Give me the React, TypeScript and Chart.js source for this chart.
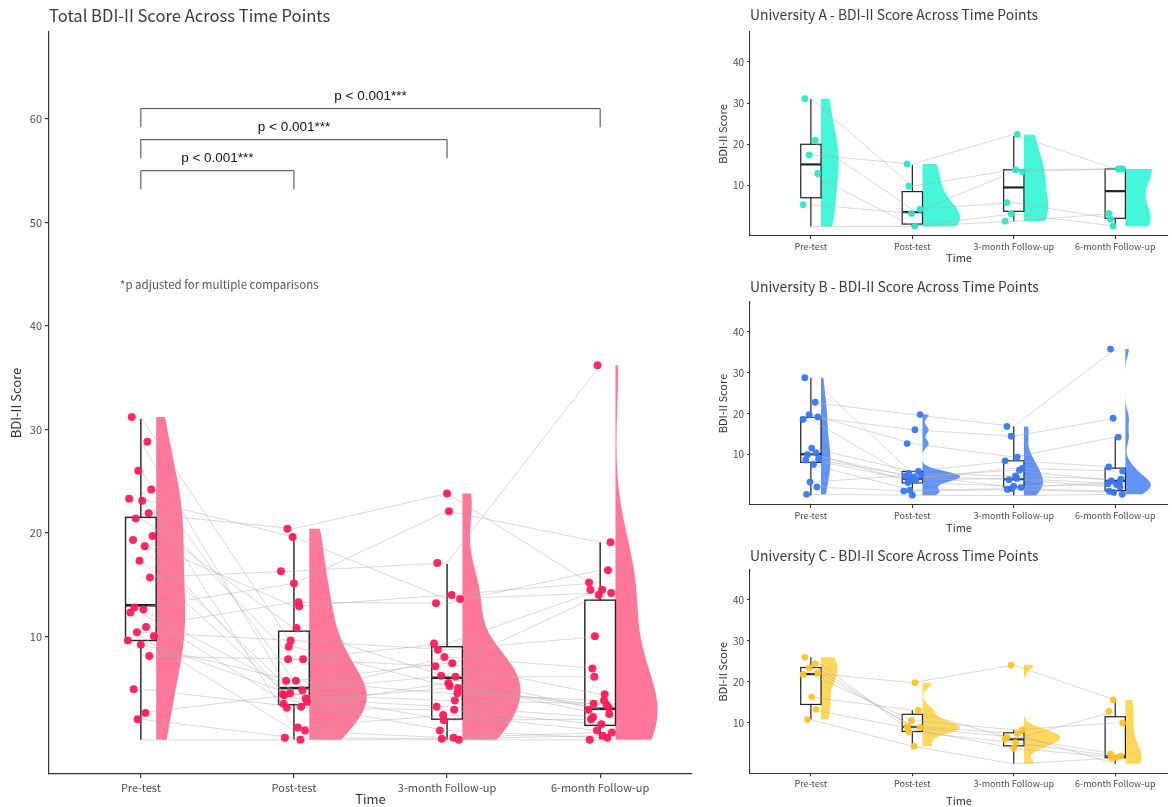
import React, { useEffect, useRef } from 'react';
import { Chart, registerables } from 'chart.js';

Chart.register(...registerables);

const FONT = "'Noto Sans CJK KR', 'Noto Sans', sans-serif";
const PFONT = "'Liberation Sans', Arial, sans-serif";

const TIME_LABELS = ['Pre-test', 'Post-test', '3-month Follow-up', '6-month Follow-up'];
const TIME_POSITIONS = [1, 2, 3, 4];

// ---------- Total sample (index-aligned by participant) ----------
const totalPre = [31.2, 28.8, 26.0, 24.2, 23.3, 23.1, 21.9, 21.4, 19.7, 19.3, 18.7, 17.3, 15.7, 12.8, 12.6, 12.3, 10.9, 10.4, 10.0, 9.6, 9.2, 8.1, 4.9, 2.6, 2.0, 0.0];
const totalPost = [9.0, 4.0, 5.7, 1.2, 19.6, 7.8, 20.4, 10.8, 3.5, 12.9, 4.5, 3.7, 16.3, 15.1, 4.8, 3.1, 13.3, 9.6, 0.9, 4.3, 5.7, 7.8, 3.2, 4.4, 0.2, 0.0];
const total3m = [5.2, 3.2, 7.4, 2.4, 13.6, 9.3, 23.8, 6.1, 0.9, 14.0, 1.9, 5.0, 17.1, 22.1, 6.2, 2.9, 13.2, 8.7, 0.2, 8.0, 4.5, 7.1, 5.5, 3.8, 0.1, 0.0];
const total6m = [3.1, 2.2, 4.4, 0.9, 14.2, 14.5, 14.5, 6.1, 0.2, 15.2, 2.0, 3.4, 36.2, 19.1, 2.9, 1.5, 16.4, 10.0, 0.7, 6.9, 3.8, 14.0, 2.5, 3.5, 0.4, 0.0];
const totalWhiskerLow = [0, 0, 0, 0];
const totalQ1 = [9.6, 3.4, 2.0, 1.4];
const totalMedian = [13.0, 5.0, 6.0, 3.0];
const totalQ3 = [21.5, 10.5, 9.0, 13.5];
const totalWhiskerHigh = [31.0, 19.9, 17.0, 19.1];
const totalHidden = [[25, 0]]; // [participant, time] points removed below the axis floor

// p-value brackets
const bracketFrom = [1, 1, 1];
const bracketTo = [2, 3, 4];
const bracketTop = [55.0, 58.0, 61.0];
const bracketBottom = [53.2, 56.2, 59.2];
const bracketLabelY = [56.2, 59.2, 62.2];
const bracketLabels = ['p < 0.001***', 'p < 0.001***', 'p < 0.001***'];

// ---------- University A ----------
const uniAPre = [31.1, 21.0, 17.4, 12.9, 5.3, 0.0];
const uniAPost = [9.8, 4.2, 15.2, 0.1, 3.2, 0.0];
const uniA3m = [13.8, 5.8, 22.4, 3.1, 13.3, 1.3];
const uniA6m = [14.0, 1.8, 14.0, 0.1, 14.0, 3.2];
const uniAWhiskerLow = [0, 0, 1.3, 0];
const uniAQ1 = [7.0, 0.6, 3.7, 2.0];
const uniAMedian = [15.1, 3.5, 9.5, 8.6];
const uniAQ3 = [20.0, 8.5, 13.8, 14.0];
const uniAWhiskerHigh = [31.0, 15.0, 22.0, 14.0];
const uniAHidden = [[5, 0], [5, 1]];

// ---------- University B ----------
const uniBPre = [28.8, 22.8, 19.8, 19.2, 18.6, 11.6, 10.4, 10.0, 9.0, 8.7, 7.6, 3.3, 2.1, 0.3];
const uniBPost = [5.4, 19.8, 12.7, 16.1, 4.1, 5.9, 3.2, 4.5, 4.8, 3.8, 1.3, 5.0, 1.1, 0.1];
const uniB3m = [4.8, 16.9, 9.4, 14.5, 6.7, 8.5, 2.3, 6.2, 3.9, 4.2, 1.7, 2.0, 1.5, 0.0];
const uniB6m = [4.0, 35.8, 14.3, 18.9, 6.0, 7.0, 2.7, 3.6, 2.1, 2.9, 1.1, 3.2, 0.8, 0.3];
const uniBWhiskerLow = [0, 0, 0, 0];
const uniBQ1 = [8.1, 3.1, 2.1, 1.2];
const uniBMedian = [10.1, 4.1, 4.0, 3.6];
const uniBQ3 = [19.1, 5.9, 8.5, 6.7];
const uniBWhiskerHigh = [28.8, 6.0, 16.9, 14.3];
const uniBHidden = [[13, 2]];

// ---------- University C ----------
const uniCPre = [26.0, 24.4, 23.4, 22.2, 21.8, 16.3, 13.3, 10.8];
const uniCPost = [7.8, 8.9, 9.2, 19.8, 10.6, 13.1, 8.5, 4.3];
const uniC3m = [5.2, 6.5, 7.4, 24.1, 8.3, 6.0, 3.8, 0.0];
const uniC6m = [1.9, 2.4, 0.0, 15.6, 10.0, 12.8, 1.6, 1.4];
const uniCWhiskerLow = [10.8, 4.3, 0, 0];
const uniCQ1 = [14.5, 7.9, 4.4, 1.5];
const uniCMedian = [21.9, 9.0, 6.0, 1.9];
const uniCQ3 = [23.5, 12.1, 7.6, 11.5];
const uniCWhiskerHigh = [26.0, 13.1, 8.3, 15.6];
const uniCHidden = [[7, 2], [2, 3]];

const TOTAL_TICKS = [10, 20, 30, 40, 50, 60];
const UNI_TICKS = [10, 20, 30, 40];

// fixed horizontal jitter pattern (fractions of jitter width)
const JITTER = [-0.7, 0.5, -0.2, 0.8, -0.9, 0.1, 0.6, -0.4, 0.9, -0.6, 0.3, -0.1, 0.7, -0.5, 0.2, -0.8, 0.4, -0.3, 1.0, -1.0, 0.0, 0.65, -0.55, 0.35, -0.25, 0.85, -0.75, 0.15, -0.45, 0.55, -0.85];

function bandwidth(v: number[]) {
  const n = v.length;
  const mean = v.reduce((a, b) => a + b, 0) / n;
  const sd = Math.sqrt(v.reduce((a, b) => a + (b - mean) ** 2, 0) / (n - 1));
  const s = [...v].sort((a, b) => a - b);
  const q = (p: number) => {
    const h = (n - 1) * p;
    const lo = Math.floor(h);
    return s[lo] + (h - lo) * ((s[Math.min(lo + 1, n - 1)]) - s[lo]);
  };
  const iqr = (q(0.75) - q(0.25)) / 1.34;
  let lo = Math.min(sd, iqr);
  if (!(lo > 0)) lo = sd || 1;
  return 0.9 * lo * Math.pow(n, -0.2);
}

function kdeCurve(v: number[], adjust: number) {
  const bw = bandwidth(v) * adjust;
  const min = Math.min(...v);
  const max = Math.max(...v);
  const steps = 160;
  const ys: number[] = [];
  const ds: number[] = [];
  const n = v.length;
  for (let k = 0; k <= steps; k++) {
    const y = min + ((max - min) * k) / steps;
    let d = 0;
    for (const xi of v) {
      const u = (y - xi) / bw;
      d += Math.exp(-0.5 * u * u);
    }
    ys.push(y);
    ds.push(d / (n * bw * Math.sqrt(2 * Math.PI)));
  }
  return { ys, ds };
}

type Cfg = {
  key: string;
  title: string;
  titleSize: number;
  titleY: number;
  series: number[][];
  wlo: number[];
  q1: number[];
  med: number[];
  q3: number[];
  whi: number[];
  hidden: number[][];
  pointColor: string;
  violinColor: string;
  yMin: number;
  yMax: number;
  yTicks: number[];
  xMax: number;
  left: number;
  top: number;
  width: number;
  height: number;
  areaLeft: number;
  areaTop: number;
  areaBottom: number;
  padRight: number;
  violinWidth: number;
  bwAdjust: number;
  jitterWidth: number;
  pointR: number;
  boxLW: number;
  medLW: number;
  axisLW: number;
  tickSize: number;
  yTickSize: number;
  axisTitleSize: number;
  xTickPad: number;
  yTitlePad: number;
  xTitlePad: number;
  tickLen: number;
  extra?: (chart: any) => void;
};

function buildChart(canvas: HTMLCanvasElement, cfg: Cfg) {
  const { series } = cfg;
  const n = series[0].length;
  const hidden = new Set(cfg.hidden.map(([i, t]) => i + '-' + t));

  const points: { x: number; y: number }[] = [];
  series.forEach((s, t) => {
    s.forEach((v, i) => {
      if (v == null || hidden.has(i + '-' + t)) return;
      points.push({ x: TIME_POSITIONS[t] + JITTER[(i + 7 * t) % JITTER.length] * cfg.jitterWidth, y: v });
    });
  });

  const lineSets: any[] = [];
  for (let i = 0; i < n; i++) {
    lineSets.push({
      data: series.map((s, t) => ({ x: TIME_POSITIONS[t], y: s[i] })),
      showLine: true,
      borderColor: 'rgba(170,170,170,0.45)',
      borderWidth: 1,
      pointRadius: 0,
      fill: false,
      tension: 0,
      order: 2,
    });
  }

  const curves = series.map((s) => kdeCurve(s, cfg.bwAdjust));
  const globalMax = Math.max(...curves.map((c) => Math.max(...c.ds)));

  const rainPlugin = {
    id: 'rain-' + cfg.key,
    beforeDatasetsDraw(chart: any) {
      const { ctx, scales } = chart;
      const xs = scales.x;
      const ysc = scales.y;
      ctx.save();
      // half violins
      curves.forEach((c, t) => {
        const pos = TIME_POSITIONS[t];
        ctx.beginPath();
        ctx.moveTo(xs.getPixelForValue(pos + 0.1), ysc.getPixelForValue(c.ys[0]));
        c.ys.forEach((yv, k) => {
          ctx.lineTo(xs.getPixelForValue(pos + 0.1 + (c.ds[k] / globalMax) * cfg.violinWidth), ysc.getPixelForValue(yv));
        });
        ctx.lineTo(xs.getPixelForValue(pos + 0.1), ysc.getPixelForValue(c.ys[c.ys.length - 1]));
        ctx.closePath();
        ctx.fillStyle = cfg.violinColor;
        ctx.fill();
      });
      // boxes
      ctx.strokeStyle = '#222';
      TIME_POSITIONS.forEach((pos, t) => {
        const xl = xs.getPixelForValue(pos - 0.1);
        const xr = xs.getPixelForValue(pos + 0.1);
        const xc = xs.getPixelForValue(pos);
        const yq1 = ysc.getPixelForValue(cfg.q1[t]);
        const yq3 = ysc.getPixelForValue(cfg.q3[t]);
        ctx.lineWidth = cfg.boxLW;
        ctx.beginPath();
        ctx.moveTo(xc, ysc.getPixelForValue(cfg.whi[t]));
        ctx.lineTo(xc, yq3);
        ctx.moveTo(xc, yq1);
        ctx.lineTo(xc, ysc.getPixelForValue(cfg.wlo[t]));
        ctx.stroke();
        ctx.strokeRect(xl, yq3, xr - xl, yq1 - yq3);
        ctx.lineWidth = cfg.medLW;
        ctx.beginPath();
        const ym = ysc.getPixelForValue(cfg.med[t]);
        ctx.moveTo(xl, ym);
        ctx.lineTo(xr, ym);
        ctx.stroke();
      });
      ctx.restore();
    },
    afterDraw(chart: any) {
      const { ctx, chartArea } = chart;
      ctx.save();
      ctx.fillStyle = '#3a3a3a';
      ctx.font = `${cfg.titleSize}px ${FONT}`;
      ctx.textBaseline = 'middle';
      ctx.textAlign = 'left';
      ctx.fillText(cfg.title, chartArea.left, cfg.titleY);
      ctx.restore();
      if (cfg.extra) cfg.extra(chart);
    },
  };

  return new Chart(canvas, {
    type: 'scatter',
    data: {
      datasets: [
        {
          data: points,
          pointRadius: cfg.pointR,
          pointBackgroundColor: cfg.pointColor,
          pointBorderWidth: 0,
          order: 0,
        } as any,
        ...lineSets,
      ],
    },
    options: {
      animation: false,
      responsive: false,
      events: [],
      layout: { padding: { top: cfg.areaTop, right: cfg.padRight, left: 0, bottom: 0 } },
      plugins: { legend: { display: false }, tooltip: { enabled: false }, title: { display: false } },
      scales: {
        x: {
          type: 'linear',
          min: 0.4,
          max: cfg.xMax,
          afterBuildTicks: (s: any) => {
            s.ticks = TIME_POSITIONS.map((v) => ({ value: v }));
          },
          afterFit: (s: any) => {
            s.height = cfg.height - cfg.areaBottom;
          },
          ticks: {
            autoSkip: false,
            maxRotation: 0,
            padding: cfg.xTickPad,
            color: '#4d4d4d',
            font: { family: FONT, size: cfg.tickSize },
            callback: (v: any) => TIME_LABELS[Number(v) - 1] ?? '',
          },
          grid: { display: true, drawOnChartArea: false, drawTicks: true, tickLength: cfg.tickLen, color: '#333', lineWidth: cfg.axisLW },
          border: { display: true, color: '#333', width: cfg.axisLW },
          title: {
            display: true,
            text: 'Time',
            color: '#333',
            font: { family: FONT, size: cfg.axisTitleSize, lineHeight: 1.2 },
            padding: { top: 0, bottom: cfg.xTitlePad },
          },
        },
        y: {
          type: 'linear',
          min: cfg.yMin,
          max: cfg.yMax,
          afterBuildTicks: (s: any) => {
            s.ticks = cfg.yTicks.map((v) => ({ value: v }));
          },
          afterFit: (s: any) => {
            s.width = cfg.areaLeft;
          },
          ticks: {
            padding: 3,
            color: '#4d4d4d',
            font: { family: FONT, size: cfg.yTickSize },
          },
          grid: { display: true, drawOnChartArea: false, drawTicks: true, tickLength: cfg.tickLen, color: '#333', lineWidth: cfg.axisLW },
          border: { display: true, color: '#333', width: cfg.axisLW },
          title: {
            display: true,
            text: 'BDI-II Score',
            color: '#333',
            font: { family: FONT, size: cfg.axisTitleSize, lineHeight: 1.2 },
            padding: { top: cfg.yTitlePad, bottom: 0 },
          },
        },
      },
    } as any,
    plugins: [rainPlugin],
  });
}

function drawBrackets(chart: any) {
  const { ctx, scales } = chart;
  const xs = scales.x;
  const ys = scales.y;
  ctx.save();
  ctx.strokeStyle = '#444';
  ctx.lineWidth = 1;
  bracketFrom.forEach((from, k) => {
    const x1 = xs.getPixelForValue(from);
    const x2 = xs.getPixelForValue(bracketTo[k]);
    const yt = ys.getPixelForValue(bracketTop[k]);
    const yb = ys.getPixelForValue(bracketBottom[k]);
    ctx.beginPath();
    ctx.moveTo(x1, yb);
    ctx.lineTo(x1, yt);
    ctx.lineTo(x2, yt);
    ctx.lineTo(x2, yb);
    ctx.stroke();
    ctx.fillStyle = '#111';
    ctx.font = `13.5px ${PFONT}`;
    ctx.textAlign = 'center';
    ctx.textBaseline = 'middle';
    ctx.fillText(bracketLabels[k], (x1 + x2) / 2, ys.getPixelForValue(bracketLabelY[k]));
  });
  ctx.fillStyle = '#555';
  ctx.font = `11.5px ${FONT}`;
  ctx.textAlign = 'left';
  ctx.textBaseline = 'middle';
  ctx.fillText('*p adjusted for multiple comparisons', xs.getPixelForValue(0.864), ys.getPixelForValue(44.0));
  ctx.restore();
}

const MAIN: Cfg = {
  key: 'total',
  title: 'Total BDI-II Score Across Time Points',
  titleSize: 16.6,
  titleY: 16,
  series: [totalPre, totalPost, total3m, total6m],
  wlo: totalWhiskerLow,
  q1: totalQ1,
  med: totalMedian,
  q3: totalQ3,
  whi: totalWhiskerHigh,
  hidden: totalHidden,
  pointColor: 'rgba(255,28,88,0.95)',
  violinColor: 'rgba(255,112,148,0.95)',
  yMin: -3.3,
  yMax: 68.4,
  yTicks: TOTAL_TICKS,
  xMax: 4.6,
  left: 0,
  top: 0,
  width: 700,
  height: 807,
  areaLeft: 49,
  areaTop: 32,
  areaBottom: 774,
  padRight: 8,
  violinWidth: 0.38,
  bwAdjust: 1.15,
  jitterWidth: 0.085,
  pointR: 4,
  boxLW: 1.4,
  medLW: 2.6,
  axisLW: 1.2,
  tickSize: 11,
  yTickSize: 11,
  axisTitleSize: 13,
  xTickPad: 3,
  yTitlePad: 8,
  xTitlePad: 0,
  tickLen: 4,
  extra: drawBrackets,
};

const subBase = {
  yMin: -2.3,
  yMax: 47.3,
  yTicks: UNI_TICKS,
  xMax: 4.52,
  left: 700,
  width: 472,
  areaLeft: 50,
  areaTop: 32,
  padRight: 3,
  violinWidth: 0.37,
  bwAdjust: 1.05,
  jitterWidth: 0.085,
  pointR: 3.4,
  boxLW: 1.2,
  medLW: 2.2,
  axisLW: 1.1,
  tickSize: 9,
  yTickSize: 10,
  axisTitleSize: 11,
  xTickPad: 2,
  yTitlePad: 16,
  tickLen: 3,
  titleSize: 13.9,
};

const UNI_A: Cfg = {
  ...subBase,
  key: 'a',
  title: 'University A - BDI-II Score Across Time Points',
  titleY: 15,
  series: [uniAPre, uniAPost, uniA3m, uniA6m],
  wlo: uniAWhiskerLow,
  q1: uniAQ1,
  med: uniAMedian,
  q3: uniAQ3,
  whi: uniAWhiskerHigh,
  hidden: uniAHidden,
  pointColor: 'rgba(40,232,200,0.95)',
  violinColor: 'rgba(60,245,215,0.95)',
  top: 0,
  height: 270,
  areaBottom: 236,
  xTitlePad: 5.5,
};

const UNI_B: Cfg = {
  ...subBase,
  key: 'b',
  title: 'University B - BDI-II Score Across Time Points',
  titleY: 16.7,
  series: [uniBPre, uniBPost, uniB3m, uniB6m],
  wlo: uniBWhiskerLow,
  q1: uniBQ1,
  med: uniBMedian,
  q3: uniBQ3,
  whi: uniBWhiskerHigh,
  hidden: uniBHidden,
  pointColor: 'rgba(55,120,245,0.95)',
  violinColor: 'rgba(88,140,248,0.95)',
  top: 270,
  height: 268,
  areaBottom: 235,
  xTitlePad: 3.5,
};

const UNI_C: Cfg = {
  ...subBase,
  key: 'c',
  title: 'University C - BDI-II Score Across Time Points',
  titleY: 18,
  series: [uniCPre, uniCPost, uniC3m, uniC6m],
  wlo: uniCWhiskerLow,
  q1: uniCQ1,
  med: uniCMedian,
  q3: uniCQ3,
  whi: uniCWhiskerHigh,
  hidden: uniCHidden,
  pointColor: 'rgba(255,196,38,0.95)',
  violinColor: 'rgba(255,214,80,0.95)',
  top: 538,
  height: 269,
  areaBottom: 235.3,
  xTitlePad: 0,
};

function RainCanvas({ cfg }: { cfg: Cfg }) {
  const ref = useRef<HTMLCanvasElement>(null);
  useEffect(() => {
    if (!ref.current) return;
    const chart = buildChart(ref.current, cfg);
    return () => chart.destroy();
  }, [cfg]);
  return (
    <canvas
      ref={ref}
      width={cfg.width}
      height={cfg.height}
      style={{ position: 'absolute', left: cfg.left, top: cfg.top, width: cfg.width, height: cfg.height }}
    />
  );
}

export default function App() {
  return (
    <div style={{ position: 'absolute', left: 0, top: 0, width: 1172, height: 807, background: '#fff', overflow: 'hidden' }}>
      <RainCanvas cfg={MAIN} />
      <RainCanvas cfg={UNI_A} />
      <RainCanvas cfg={UNI_B} />
      <RainCanvas cfg={UNI_C} />
    </div>
  );
}
